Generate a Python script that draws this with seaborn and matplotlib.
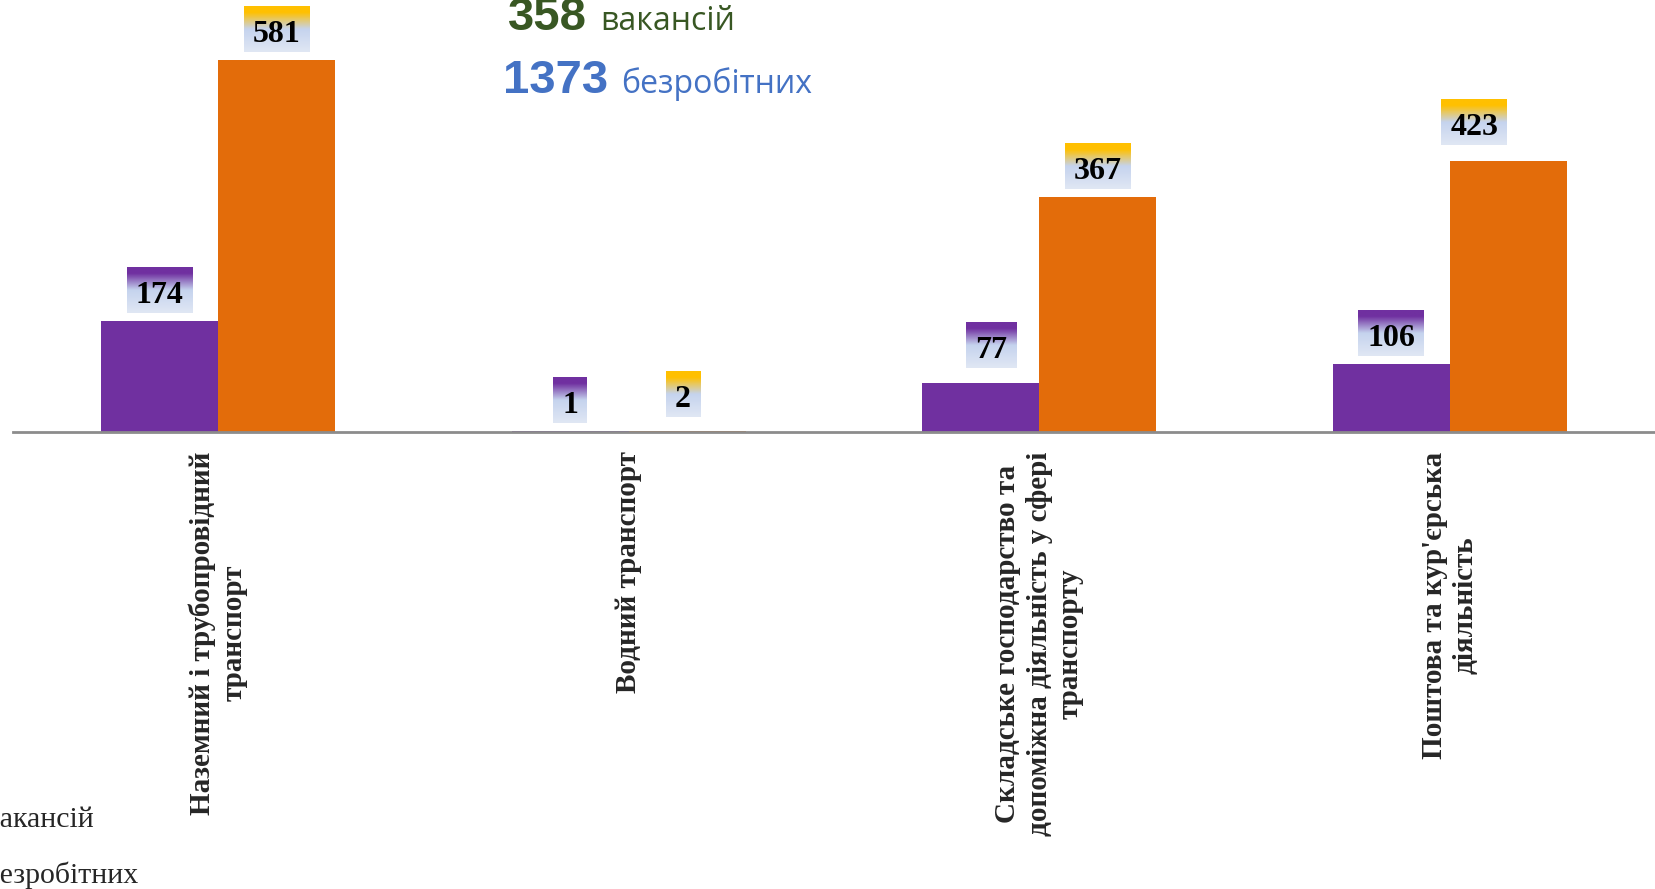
import numpy as np
import pandas as pd
import matplotlib
matplotlib.use("Agg")
import matplotlib.pyplot as plt
from matplotlib.colors import LinearSegmentedColormap, to_rgb
import seaborn as sns

# ---- data ----
categories = [
    "Наземний і трубопровідний\nтранспорт",
    "Водний транспорт",
    "Складське господарство та\nдопоміжна діяльність у сфері\nтранспорту",
    "Поштова та кур'єрська\nдіяльність",
]
series_names = ["вакансій", "безробітних"]
vacancies = [174, 1, 77, 106]
unemployed = [581, 2, 367, 423]
total_vacancies = "358"
total_unemployed = "1373"

colors = ["#7030A0", "#E36C0A"]
label_top_colors = ["#7030A0", "#FFC000"]

df = pd.DataFrame({
    "cat": categories * 2,
    "series": [series_names[0]] * 4 + [series_names[1]] * 4,
    "value": vacancies + unemployed,
})

W, H = 1655, 889
fig = plt.figure(figsize=(W / 100, H / 100), dpi=100)
sns.set_style("white")
ax = fig.add_axes([12.7 / W, (H - 432) / H, 1.0 - 12.7 / W, 432 / H])

sns.barplot(data=df, x="cat", y="value", hue="series", order=categories,
            hue_order=series_names, palette=colors, width=0.57,
            saturation=1, ax=ax, legend=True, edgecolor="none")

px_per_unit = 372 / 581
ax.set_xlim(-0.5, 3.5)
ax.set_ylim(0, 432 / px_per_unit)

for s in ["left", "right", "top"]:
    ax.spines[s].set_visible(False)
ax.spines["bottom"].set_color("#8C8C8C")
ax.spines["bottom"].set_linewidth(2)
ax.set_yticks([])
ax.set_xlabel("")
ax.set_ylabel("")
ax.set_xticks(range(len(categories)))
ax.set_xticklabels(categories, rotation=90, ha="center", va="top",
                   multialignment="center", fontfamily="Liberation Serif",
                   fontweight="bold", fontsize=21)
ax.tick_params(axis="x", which="major", length=0, pad=14)
ax.set_xticks(np.arange(-0.5, len(categories), 1.0), minor=True)
ax.tick_params(axis="x", which="minor", length=6.5, width=1.6,
               color="#8C8C8C", direction="out")

# legend (partly off-canvas like the reference)
sns.move_legend(ax, loc="center left", bbox_to_anchor=(-0.0662, 0.047),
                bbox_transform=fig.transFigure, frameon=False, title=None,
                prop={"family": "Liberation Serif", "size": 21.5},
                handlelength=2, handletextpad=0.8, borderpad=0.4,
                borderaxespad=0, labelspacing=0.95)

# value labels
fs = 23
em = fs * 100 / 72
nudge_y = [[0, 0, 7, 0], [0, 6, 0, 8]]
nudge_x = [[0, 0, 10, 0], [0, -4, 0, -34]]
texts = []
for si, cont in enumerate(ax.containers):
    for bi, bar in enumerate(cont):
        h = bar.get_height()
        x = bar.get_x() + bar.get_width() / 2
        base_off = 8 + 0.31 * em + nudge_y[si][bi]
        t = ax.annotate(f"{int(round(h))}", (x, h),
                        xytext=(nudge_x[si][bi], base_off),
                        textcoords="offset pixels", ha="center",
                        va="baseline", fontfamily="Liberation Serif",
                        fontweight="bold", fontsize=fs, color="black",
                        zorder=5, annotation_clip=False)
        texts.append((t, si))

fig.canvas.draw()
renderer = fig.canvas.get_renderer()
inv = ax.transData.inverted()
for t, si in texts:
    ext = t.get_window_extent(renderer)
    bx, by = ax.transData.transform(t.xy)
    by = by + t.xyann[1]
    x0, x1 = ext.x0 - 9, ext.x1 + 9
    y0, y1 = by - 0.31 * em, by + 1.13 * em
    top = to_rgb(label_top_colors[si])
    cmap = LinearSegmentedColormap.from_list(
        "g", [(0, top), (0.13, top), (0.5, to_rgb("#C5D3EE")),
              (1, to_rgb("#E0E7F4"))])
    grad = cmap(np.linspace(0, 1, 64))[:, None, :]
    (dx0, dy0), (dx1, dy1) = inv.transform([[x0, y0], [x1, y1]])
    ax.imshow(grad, extent=[dx0, dx1, dy0, dy1], aspect="auto", zorder=4,
              interpolation="bilinear", origin="upper", clip_on=False)

ax.set_xlim(-0.5, 3.5)
ax.set_ylim(0, 432 / px_per_unit)

# headline totals
green = "#385723"
blue = "#4472C4"
fig.text(508 / W, 1 - 30 / H, total_vacancies, color=green, fontsize=34,
         fontweight="bold", fontfamily="Liberation Sans", va="baseline")
fig.text(600 / W, 1 - 30 / H, "вакансій", color=green, fontsize=23,
         fontfamily="Open Sans", va="baseline")
fig.text(503 / W, 1 - 93 / H, total_unemployed, color=blue, fontsize=34,
         fontweight="bold", fontfamily="Liberation Sans", va="baseline")
fig.text(621 / W, 1 - 93 / H, "безробітних", color=blue, fontsize=23,
         fontfamily="Open Sans", va="baseline")

fig.savefig("out.png", dpi=100)
